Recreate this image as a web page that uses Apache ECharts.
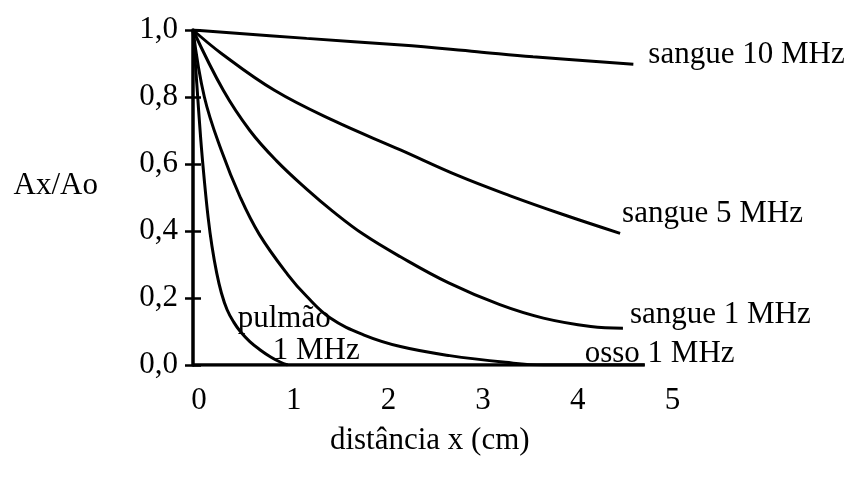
<!DOCTYPE html>
<html>
<head>
<meta charset="utf-8">
<script src="https://cdn.jsdelivr.net/npm/echarts@6/dist/echarts.min.js"></script>
<style>
html,body{margin:0;padding:0;background:#fff;}
#chart{width:855px;height:477px;}
</style>
</head>
<body>
<div id="chart"></div>
<script>
// ---- data ----
var xTicks = [0, 1, 2, 3, 4, 5];
var yTicks = [0.0, 0.2, 0.4, 0.6, 0.8, 1.0];

var sangue10X = [0, 1.2, 2.2, 3.0, 3.59, 4.65];
var sangue10Y = [1, 0.975, 0.955, 0.935, 0.92, 0.898];

var sangue5X = [0, 0.3, 0.86, 1.48, 2.19, 2.8, 3.35, 3.9, 4.51];
var sangue5Y = [1, 0.93, 0.82, 0.73, 0.642, 0.565, 0.505, 0.45, 0.393];

var sangue1X = [0, 0.32, 0.6, 0.88, 1.2, 1.48, 1.8, 2.19, 2.7, 3.24, 3.7, 4.2, 4.54];
var sangue1Y = [1, 0.82, 0.7, 0.61, 0.525, 0.458, 0.39, 0.323, 0.245, 0.18, 0.14, 0.115, 0.11];

var ossoX = [0, 0.12, 0.3, 0.5, 0.7, 1.0, 1.2, 1.45, 1.8, 2.19, 2.71, 3.3, 3.7, 4.77];
var ossoY = [1, 0.8, 0.64, 0.5, 0.39, 0.27, 0.205, 0.14, 0.09, 0.055, 0.028, 0.008, 0, 0];

var pulmaoX = [0, 0.04, 0.08, 0.12, 0.16, 0.2, 0.25, 0.3, 0.36, 0.43, 0.5, 0.6, 0.71, 0.82, 0.92, 1.0];
var pulmaoY = [1, 0.84, 0.68, 0.55, 0.44, 0.355, 0.275, 0.215, 0.165, 0.128, 0.1, 0.07, 0.045, 0.024, 0.009, 0];

var baselineX = [0, 4.77];
var baselineY = [0, 0];

var labels = {
  s10: 'sangue 10 MHz',
  s5: 'sangue 5 MHz',
  s1: 'sangue 1 MHz',
  osso: 'osso 1 MHz',
  pulmao1: 'pulmão',
  pulmao2: '1 MHz'
};

// ---- build ----
function pairs(xs, ys) { return xs.map(function (x, i) { return [x, ys[i]]; }); }
var FONT = 'Liberation Serif';
var FS = 31;
var txt = { fontFamily: FONT, fontSize: FS, color: '#000' };

function curve(name, xs, ys, label, offset) {
  return {
    name: name, type: 'line', data: pairs(xs, ys), smooth: 0.4,
    showSymbol: false, symbol: 'none', silent: true, animation: false,
    lineStyle: { color: '#000', width: 3 },
    endLabel: label ? Object.assign({
      show: true, formatter: label, distance: 0, offset: offset,
      align: 'left', verticalAlign: 'middle'
    }, txt) : { show: false },
    z: 3
  };
}

var chart = echarts.init(document.getElementById('chart'), null, { renderer: 'canvas' });
chart.setOption({
  backgroundColor: '#fff',
  animation: false,
  grid: { left: 193, top: 30, right: 188.5, bottom: 112, containLabel: false },
  xAxis: {
    type: 'value', min: xTicks[0], max: xTicks[xTicks.length - 1], interval: 1,
    name: 'distância x (cm)', nameLocation: 'middle', nameGap: 60,
    nameTextStyle: txt,
    axisLine: { show: false }, axisTick: { show: false }, splitLine: { show: false },
    axisLabel: Object.assign({ margin: 20, padding: [0, 0, 0, 12] }, txt)
  },
  yAxis: [{
    type: 'value', min: yTicks[0], max: yTicks[yTicks.length - 1], interval: 0.2,
    name: 'Ax/Ao', nameLocation: 'middle', nameRotate: 0, nameGap: 95,
    nameTextStyle: Object.assign({ verticalAlign: 'bottom', lineHeight: 24 }, txt),
    axisLine: { show: true, lineStyle: { color: '#000', width: 3.5 } },
    axisTick: { show: true, inside: false, length: 8, lineStyle: { color: '#000', width: 2.5 } },
    splitLine: { show: false },
    axisLabel: Object.assign({ margin: 15, formatter: function (v) { return v.toFixed(1).replace('.', ','); } }, txt)
  }, {
    type: 'value', min: yTicks[0], max: yTicks[yTicks.length - 1], interval: 0.2, position: 'left',
    axisLine: { show: false },
    axisTick: { show: true, inside: true, length: 8, lineStyle: { color: '#000', width: 2.5 } },
    splitLine: { show: false }, axisLabel: { show: false }
  }],
  series: [
    curve('sangue 10 MHz', sangue10X, sangue10Y, labels.s10, [15, -9]),
    curve('sangue 5 MHz', sangue5X, sangue5Y, labels.s5, [2, -19]),
    curve('sangue 1 MHz', sangue1X, sangue1Y, labels.s1, [7, -13]),
    curve('osso 1 MHz', ossoX, ossoY, labels.osso, [-60, -11]),
    (function () {
      var s = curve('pulmão 1 MHz', pulmaoX, pulmaoY, null, null);
      s.endLabel = {
        show: true, distance: 0, offset: [-50, -30], align: 'left', verticalAlign: 'middle',
        formatter: '{a|' + labels.pulmao1 + '}\n{b|' + labels.pulmao2 + '}',
        rich: {
          a: { fontFamily: FONT, fontSize: FS, color: '#000', lineHeight: 32 },
          b: { fontFamily: FONT, fontSize: FS, color: '#000', lineHeight: 32, padding: [0, 0, 0, 35] }
        }
      };
      return s;
    })(),
    {
      name: 'eixo', type: 'line', data: pairs(baselineX, baselineY), showSymbol: false, symbol: 'none',
      silent: true, animation: false, lineStyle: { color: '#000', width: 3.5 }, z: 4
    }
  ]
});
</script>
</body>
</html>
